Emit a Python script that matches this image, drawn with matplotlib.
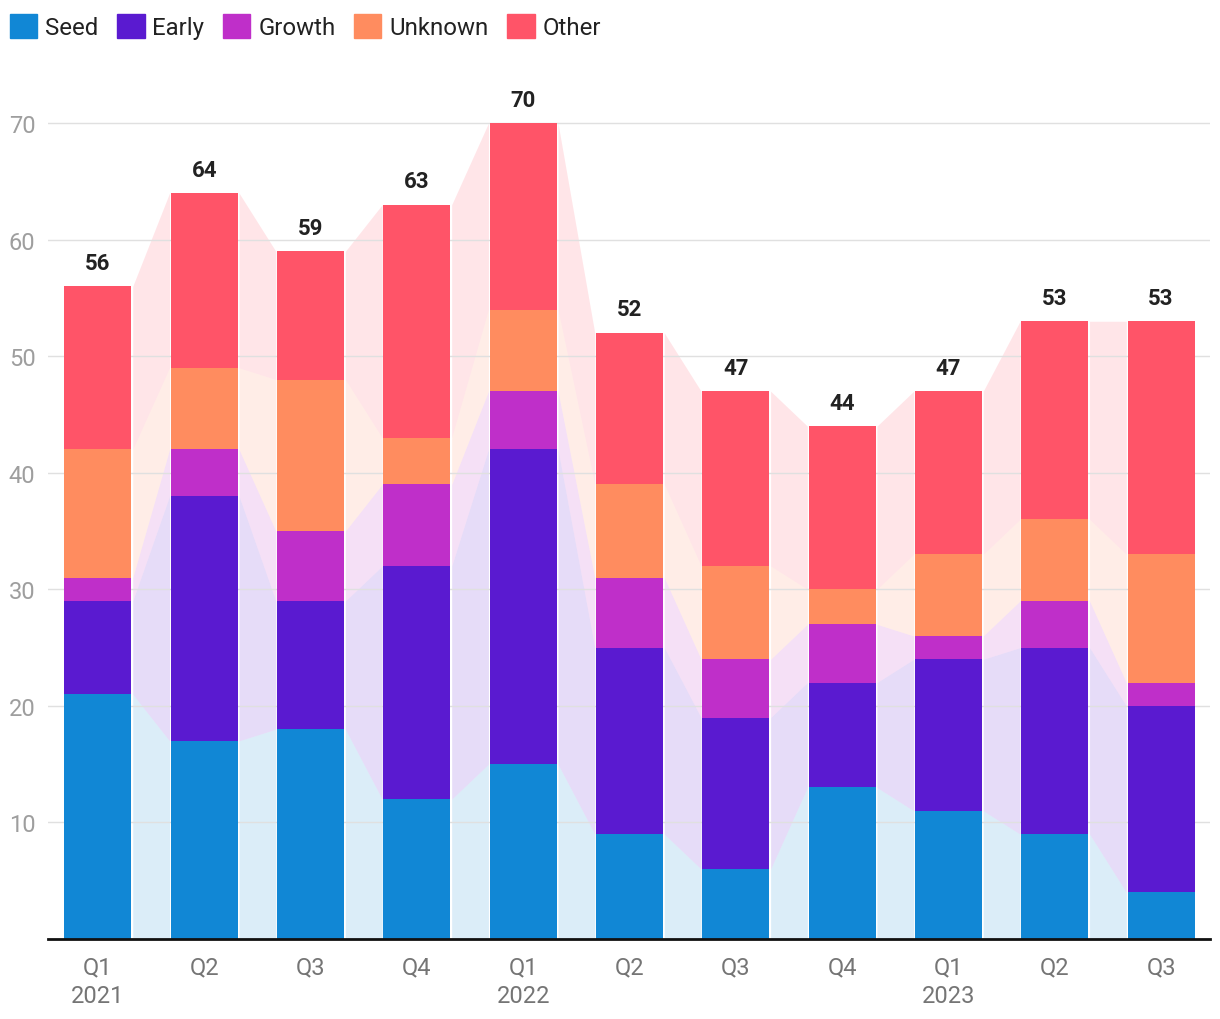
import numpy as np
import matplotlib
matplotlib.use("Agg")
import matplotlib.pyplot as plt
from matplotlib.patches import Patch

plt.rcParams['font.family'] = ['Roboto', 'DejaVu Sans']

quarters = ["Q1\n2021", "Q2", "Q3", "Q4", "Q1\n2022", "Q2", "Q3", "Q4", "Q1\n2023", "Q2", "Q3"]
series_names = ["Seed", "Early", "Growth", "Unknown", "Other"]
seed = [21, 17, 18, 12, 15, 9, 6, 13, 11, 9, 4]
early = [8, 21, 11, 20, 27, 16, 13, 9, 13, 16, 16]
growth = [2, 4, 6, 7, 5, 6, 5, 5, 2, 4, 2]
unknown = [11, 7, 13, 4, 7, 8, 8, 3, 7, 7, 11]
other = [14, 15, 11, 20, 16, 13, 15, 14, 14, 17, 20]
colors = ["#1187D5", "#5A1AD0", "#BF2FC9", "#FF8C5F", "#FF5468"]

data = np.array([seed, early, growth, unknown, other])
tops = np.cumsum(data, axis=0)
bottoms = tops - data
totals = tops[-1]
x = np.arange(len(quarters))
width = 0.63
gap = 0.012

fig = plt.figure(figsize=(12.2, 10.2), dpi=100)
ax = fig.add_axes([48 / 1220, 80 / 1020, (1210 - 48) / 1220, 880 / 1020])

for k in range(len(series_names)):
    ax.bar(x, data[k], width, bottom=bottoms[k], color=colors[k], zorder=3)
    # translucent bands between neighbouring bars
    for i in range(len(x) - 1):
        xs = [x[i] + width / 2 + gap, x[i + 1] - width / 2 - gap]
        ax.fill_between(xs, [bottoms[k][i], bottoms[k][i + 1]], [tops[k][i], tops[k][i + 1]],
                        color=colors[k], alpha=0.15, linewidth=0, zorder=1)

for i, t in enumerate(totals):
    ax.annotate(str(t), (x[i], t), xytext=(0, 9), textcoords="offset points",
                ha="center", va="bottom", fontsize=16, fontweight="bold", color="#222222")

ax.set_xlim(-0.47, len(x) - 1 + 0.46)
ax.set_ylim(0, 75.5)
ax.set_yticks(range(10, 71, 10))
ax.set_xticks(x)
ax.set_xticklabels(quarters, linespacing=1.3)
ax.grid(axis="y", color="#e0e0e0", linewidth=1, zorder=2)
ax.set_axisbelow(False)
for s in ["left", "right", "top"]:
    ax.spines[s].set_visible(False)
ax.spines["bottom"].set_color("#111111")
ax.spines["bottom"].set_linewidth(2)
ax.spines["bottom"].set_zorder(5)
ax.tick_params(axis="y", length=0, pad=9, labelsize=17, labelcolor="#9e9e9e")
ax.tick_params(axis="x", length=0, pad=12, labelsize=17, labelcolor="#757575")

handles = [Patch(color=c) for c in colors]
fig.legend(handles, series_names, loc="upper left", bbox_to_anchor=(0.0, 0.995), ncol=5,
           frameon=False, fontsize=17.3, handlelength=1.16, handleheight=1.16,
           handletextpad=0.33, columnspacing=0.75, borderaxespad=0.2, borderpad=0.2,
           labelcolor="#222222")

fig.savefig("out.png", dpi=100)
